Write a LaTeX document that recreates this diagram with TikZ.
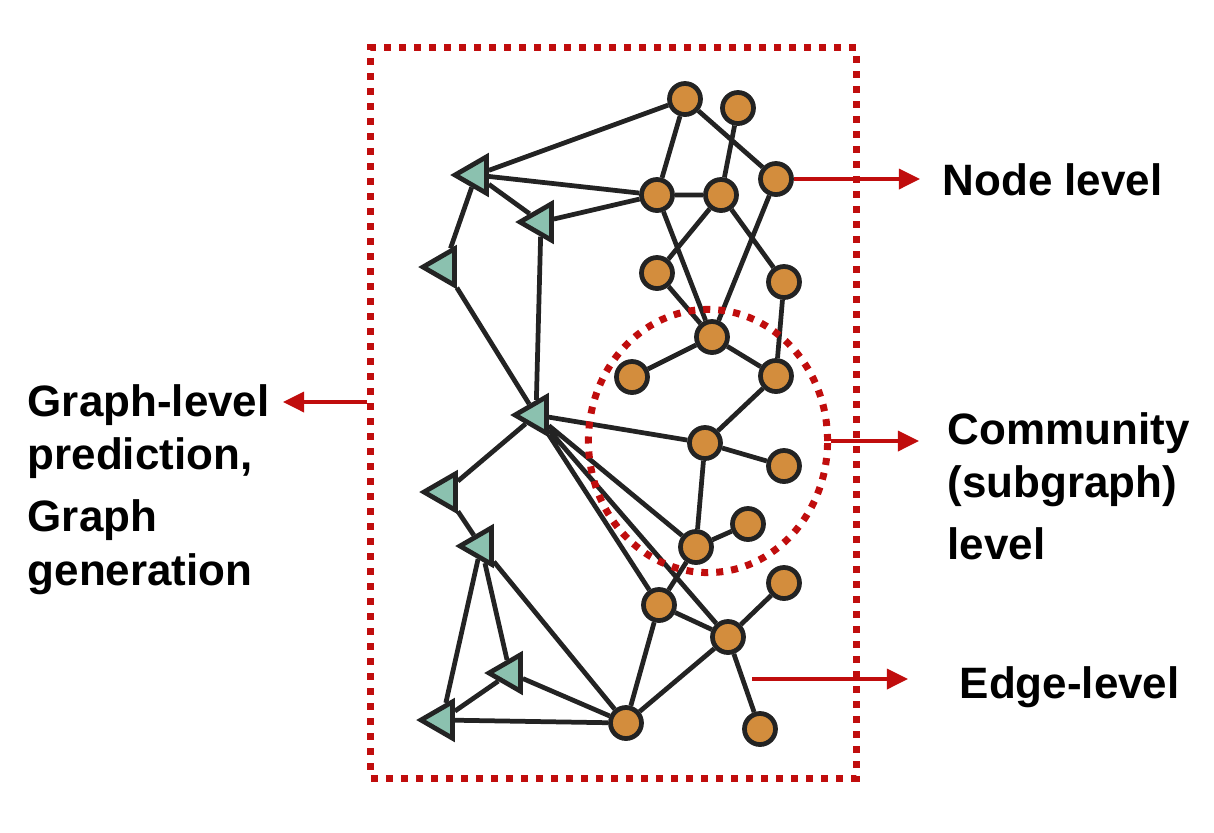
\documentclass[tikz,border=0pt]{standalone}
\usepackage{fontspec}
\setmainfont{Liberation Sans}
\usetikzlibrary{arrows.meta,shapes.geometric,backgrounds}
\definecolor{nodeorange}{HTML}{D38D3D}
\definecolor{trigreen}{HTML}{8BC1AF}
\definecolor{edgegray}{HTML}{232323}
\definecolor{markred}{HTML}{C00D0D}
\tikzset{
  every picture/.style={line join=miter},
  gnode/.style={circle, draw=edgegray, fill=nodeorange, line width=1.35pt, minimum size=0.31cm, inner sep=0pt},
  tnode/.style={regular polygon, regular polygon sides=3, shape border rotate=90, draw=edgegray, fill=trigreen, line width=1.35pt, minimum size=0.42cm, inner sep=0pt},
  link/.style={draw=edgegray, line width=1.35pt},
  dotline/.style={draw=markred, line width=0.07cm, dash pattern=on 0.07cm off 0.08cm},
  levelarrow/.style={draw=markred, line width=1pt, -{Triangle[length=0.21cm,width=0.2cm]}},
  levelbl/.style={font=\fontsize{12.5}{15.1}\selectfont\bfseries, align=left, inner sep=0pt},
}

\begin{document}
\begin{tikzpicture}[x=0.01cm,y=-0.01cm]
\useasboundingbox (0,0) rectangle (1214,832);
\node[gnode] (o1) at (685,99) {};
\node[gnode] (o2) at (738,108) {};
\node[gnode] (o3) at (776,179) {};
\node[gnode] (o4) at (657,195) {};
\node[gnode] (o5) at (721,195) {};
\node[gnode] (o6) at (657,273) {};
\node[gnode] (o7) at (784,282) {};
\node[gnode] (o8) at (712,337) {};
\node[gnode] (o9) at (632,377) {};
\node[gnode] (o10) at (776,376) {};
\node[gnode] (o11) at (705,443) {};
\node[gnode] (o12) at (784,466) {};
\node[gnode] (o13) at (748,524) {};
\node[gnode] (o14) at (696,547) {};
\node[gnode] (o15) at (784,583) {};
\node[gnode] (o16) at (659,605) {};
\node[gnode] (o17) at (728,637) {};
\node[gnode] (o18) at (626,723) {};
\node[gnode] (o19) at (760,729) {};
\node[tnode] (t1) at (476,175) {};
\node[tnode] (t2) at (541,222) {};
\node[tnode] (t3) at (444,267) {};
\node[tnode] (t4) at (536,415) {};
\node[tnode] (t5) at (445,492) {};
\node[tnode] (t6) at (481,546) {};
\node[tnode] (t7) at (510,673) {};
\node[tnode] (t8) at (442,720) {};
\begin{pgfonlayer}{background}
\draw[link](o1)--(t1) (o4)--(t1) (o4)--(t2) (t1)--(t2) (t1)--(t3)
(t2)--(t4) (t3)--(t4) (t4)--(t5) (t5)--(t6)
(o1)--(o4) (o1)--(o3) (o2)--(o5) (o4)--(o5)
(o3)--(o8) (o4)--(o8) (o5)--(o6) (o5)--(o7) (o6)--(o8) (o7)--(o10)
(o8)--(o9) (o8)--(o10) (o10)--(o11) (o11)--(o12) (o11)--(o14) (o14)--(o13)
(t4)--(o11) (t4)--(o14) (t4)--(o16) (t4)--(o17)
(o14)--(o16) (o16)--(o17) (o17)--(o15) (o17)--(o19) (o16)--(o18) (o17)--(o18)
(o18)--(t7) (o18)--(t8) (t7)--(t8) (t6)--(t8) (t6)--(t7) (t6)--(o18);
\end{pgfonlayer}
\node[ellipse, dotline, minimum width=2.39cm, minimum height=2.63cm, inner sep=0pt] (comm) at (708,441) {};
\node[rectangle, dotline, minimum width=4.85cm, minimum height=7.30cm, inner sep=0pt] (frame) at (613.5,413) {};
\node[levelbl, anchor=base west] (nodelbl) at (942,195) {Node level};
\node[levelbl, anchor=base west] (edgelbl) at (959,698) {Edge-level};
\node[levelbl, anchor=north west] (graphlbl) at (27,384) {Graph-level\\prediction,\\[2.6pt]Graph\\generation};
\node[levelbl, anchor=north west] (commlbl) at (947,412) {Community\\(subgraph)\\[2.6pt]level};
\coordinate (nodetip) at (920,179);
\coordinate (commtip) at (919,441);
\coordinate (edgestart) at (752,679);
\coordinate (edgetip) at (908,679);
\coordinate (graphtip) at (283,402);
\draw[levelarrow](o3)--(nodetip);
\draw[levelarrow](comm.east)--(commtip);
\draw[levelarrow](edgestart)--(edgetip);
\draw[levelarrow](frame.west |- graphtip)--(graphtip);
\end{tikzpicture}
\end{document}
